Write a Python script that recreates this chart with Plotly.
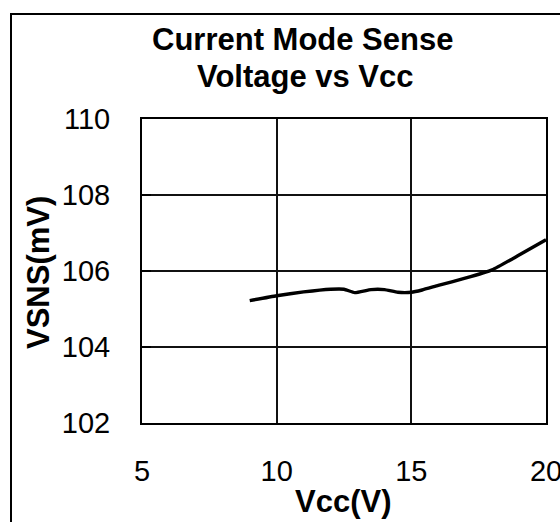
import plotly.graph_objects as go

vcc = [9, 10, 11, 12, 12.5, 12.9, 13.5, 14, 14.5, 15, 15.4, 16, 17, 18, 19, 20]
vsns = [105.22, 105.35, 105.45, 105.52, 105.52, 105.43, 105.51, 105.51, 105.44, 105.44, 105.5,
        105.62, 105.81, 106.03, 106.42, 106.82]

x_ticks = [5, 10, 15, 20]
y_ticks = [102, 104, 106, 108, 110]

W, H = 560, 522
L, R, T, B = 142, 14, 119, 99
pw, ph = W - L - R, H - T - B

def px(x):
    return (x - L) / pw

def py(y):
    return (H - B - y) / ph

FONT = "Liberation Sans, Arial, sans-serif"

fig = go.Figure()
fig.add_trace(go.Scatter(x=vcc, y=vsns, mode="lines",
                         line=dict(color="black", width=3.4, shape="spline", smoothing=0.4),
                         showlegend=False, hoverinfo="skip"))

fig.update_layout(
    width=W, height=H, autosize=False,
    margin=dict(l=L, r=R, t=T, b=B, pad=0, autoexpand=False),
    paper_bgcolor="white", plot_bgcolor="white",
    font=dict(family=FONT, color="black", size=29),
    xaxis=dict(range=[5, 20], tickvals=x_ticks, showgrid=True, gridcolor="#111", gridwidth=1.5,
               showline=True, linecolor="black", linewidth=2, mirror=True, zeroline=False,
               automargin=False,
               ticks="", ticklabelstandoff=21, ticklabeloverflow="allow",
               tickfont=dict(size=29, family=FONT)),
    yaxis=dict(range=[102, 110], tickvals=y_ticks, showgrid=True, gridcolor="#111", gridwidth=1.5,
               showline=True, linecolor="black", linewidth=2, mirror=True, zeroline=False,
               automargin=False,
               ticks="inside", ticklen=9, tickwidth=2, tickcolor="black",
               ticklabelstandoff=24, ticklabeloverflow="allow",
               tickfont=dict(size=29, family=FONT)),
    annotations=[
        dict(text="<b>Current Mode Sense</b>", x=px(302), y=py(40), xref="paper", yref="paper",
             xanchor="center", yanchor="middle", showarrow=False, font=dict(size=31, family=FONT)),
        dict(text="<b>Voltage vs Vcc</b>", x=px(305), y=py(76), xref="paper", yref="paper",
             xanchor="center", yanchor="middle", showarrow=False, font=dict(size=31, family=FONT)),
        dict(text="<b>Vcc(V)</b>", x=px(343), y=py(501), xref="paper", yref="paper",
             xanchor="center", yanchor="middle", showarrow=False, font=dict(size=31, family=FONT)),
        dict(text="<b>VSNS(mV)</b>", x=px(38), y=py(273), xref="paper", yref="paper",
             xanchor="center", yanchor="middle", textangle=-90, showarrow=False,
             font=dict(size=31, family=FONT)),
    ],
    shapes=[
        dict(type="rect", xref="paper", yref="paper", x0=px(11), y0=py(600), x1=px(620), y1=py(14),
             line=dict(color="black", width=2), fillcolor="rgba(0,0,0,0)", layer="below"),
    ],
)

fig.write_html("out.html", config={"displayModeBar": False, "responsive": False},
               post_script="document.body.style.margin='0';document.body.style.overflow='hidden';")
